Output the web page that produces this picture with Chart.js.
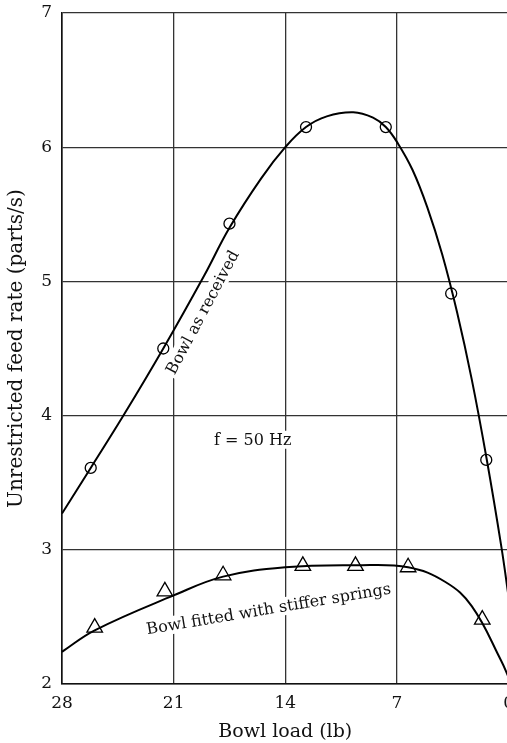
<!DOCTYPE html>
<html>
<head>
<meta charset="utf-8">
<script src="https://cdn.jsdelivr.net/npm/chart.js@4"></script>
<style>
  html, body { margin: 0; padding: 0; background: #fff; overflow: hidden; }
  #wrap { width: 523px; height: 743px; }
</style>
</head>
<body>
<div id="wrap"><canvas id="chart"></canvas></div>
<script>
  // measured points, bowl as received (load lb, parts/s)
  const recibidoX = [26.2, 21.65, 17.5, 12.7, 7.7, 3.6, 1.4];
  const recibidoY = [3.61, 4.5, 5.43, 6.15, 6.15, 4.91, 3.67];
  // measured points, bowl with stiffer springs
  const rigidoX = [25.95, 21.55, 17.9, 12.9, 9.6, 6.3, 1.65];
  const rigidoY = [2.42, 2.69, 2.81, 2.88, 2.88, 2.87, 2.48];

  // fitted curves
  const curvaRecibidoX = [28, 26.2, 24.15, 21.65, 19.1, 17.5, 15.5, 14, 12.7, 11.4, 9.74, 8.5, 7.7, 6.95, 6.02, 5.09, 4.16, 3.23, 2.31, 1.38, 0.45, 0];
  const curvaRecibidoY = [3.27, 3.61, 4.0, 4.5, 5.04, 5.4, 5.77, 6.0, 6.15, 6.23, 6.26, 6.22, 6.15, 6.03, 5.83, 5.55, 5.2, 4.77, 4.27, 3.68, 3.02, 2.65];
  const curvaRigidoX = [28, 25.95, 21, 17.9, 14, 9.6, 6.3, 3.96, 2.31, 0.45, 0];
  const curvaRigidoY = [2.24, 2.40, 2.66, 2.80, 2.87, 2.885, 2.87, 2.76, 2.58, 2.17, 2.05];

  const ticksX = [28, 21, 14, 7, 0];
  const ticksY = [2, 3, 4, 5, 6, 7];

  const fuente = '"DejaVu Serif", "Liberation Serif", serif';

  function aPuntos(xs, ys) {
    return xs.map((x, i) => ({ x: x, y: ys[i] }));
  }

  // textos sobre la grafica, con fondo blanco que corta la reticula
  const notas = [
    { texto: 'Bowl as received', x: 19.2, y: 4.77, angulo: -62 },
    { texto: 'f = 50 Hz', x: 16.04, y: 3.82, angulo: 0 },
    { texto: 'Bowl fitted with stiffer springs', x: 15.05, y: 2.56, angulo: -9.5 }
  ];

  const pluginNotas = {
    id: 'notas',
    beforeDatasetsDraw(chart) {
      const ctx = chart.ctx;
      const sx = chart.scales.x, sy = chart.scales.y;
      ctx.save();
      ctx.font = '16px ' + fuente;
      ctx.textAlign = 'center';
      ctx.textBaseline = 'middle';
      for (const n of notas) {
        const px = sx.getPixelForValue(n.x);
        const py = sy.getPixelForValue(n.y);
        const w = ctx.measureText(n.texto).width;
        ctx.save();
        ctx.translate(px, py);
        ctx.rotate(n.angulo * Math.PI / 180);
        ctx.fillStyle = '#fff';
        ctx.fillRect(-w / 2 - 3, -9, w + 6, 18);
        ctx.fillStyle = '#111';
        ctx.fillText(n.texto, 0, 1);
        ctx.restore();
      }
      ctx.restore();
    }
  };

  const ctx = document.getElementById('chart').getContext('2d');
  new Chart(ctx, {
    type: 'scatter',
    data: {
      datasets: [
        {
          data: aPuntos(curvaRecibidoX, curvaRecibidoY),
          showLine: true,
          borderColor: '#000',
          borderWidth: 2,
          pointRadius: 0,
          tension: 0.4
        },
        {
          data: aPuntos(curvaRigidoX, curvaRigidoY),
          showLine: true,
          borderColor: '#000',
          borderWidth: 2,
          pointRadius: 0,
          tension: 0.4
        },
        {
          data: aPuntos(recibidoX, recibidoY),
          pointStyle: 'circle',
          pointRadius: 5.5,
          pointBackgroundColor: '#fff',
          pointBorderColor: '#000',
          pointBorderWidth: 1.3
        },
        {
          data: aPuntos(rigidoX, rigidoY),
          pointStyle: 'triangle',
          pointRadius: 9,
          pointBackgroundColor: '#fff',
          pointBorderColor: '#000',
          pointBorderWidth: 1.3
        }
      ]
    },
    options: {
      responsive: true,
      maintainAspectRatio: false,
      animation: false,
      layout: { padding: { top: 13, right: 0, left: 0, bottom: 0 } },
      plugins: {
        legend: { display: false },
        tooltip: { enabled: false }
      },
      scales: {
        x: {
          type: 'linear',
          reverse: true,
          min: 0,
          max: 28,
          afterBuildTicks: (s) => { s.ticks = ticksX.map(v => ({ value: v })); },
          afterFit: (s) => { s.height = 59; },
          grid: { color: '#333', lineWidth: 1.3, drawTicks: false },
          border: { color: '#111', width: 1.6 },
          ticks: { color: '#111', padding: 9, font: { family: fuente, size: 17 } },
          title: {
            display: true,
            text: 'Bowl load (lb)',
            color: '#111',
            padding: { top: 2, bottom: 0 },
            font: { family: fuente, size: 19 }
          }
        },
        y: {
          type: 'linear',
          min: 2,
          max: 7,
          afterBuildTicks: (s) => { s.ticks = ticksY.map(v => ({ value: v })); },
          afterFit: (s) => { s.width = 62; s.paddingTop = 0; s.paddingBottom = 0; },
          grid: { color: '#333', lineWidth: 1.3, drawTicks: false },
          border: { color: '#111', width: 1.6 },
          ticks: { color: '#111', padding: 10, font: { family: fuente, size: 17 } },
          title: {
            display: true,
            text: 'Unrestricted feed rate (parts/s)',
            color: '#111',
            padding: { top: 5, bottom: 0 },
            font: { family: fuente, size: 20 }
          }
        }
      }
    },
    plugins: [pluginNotas]
  });
</script>
</body>
</html>
